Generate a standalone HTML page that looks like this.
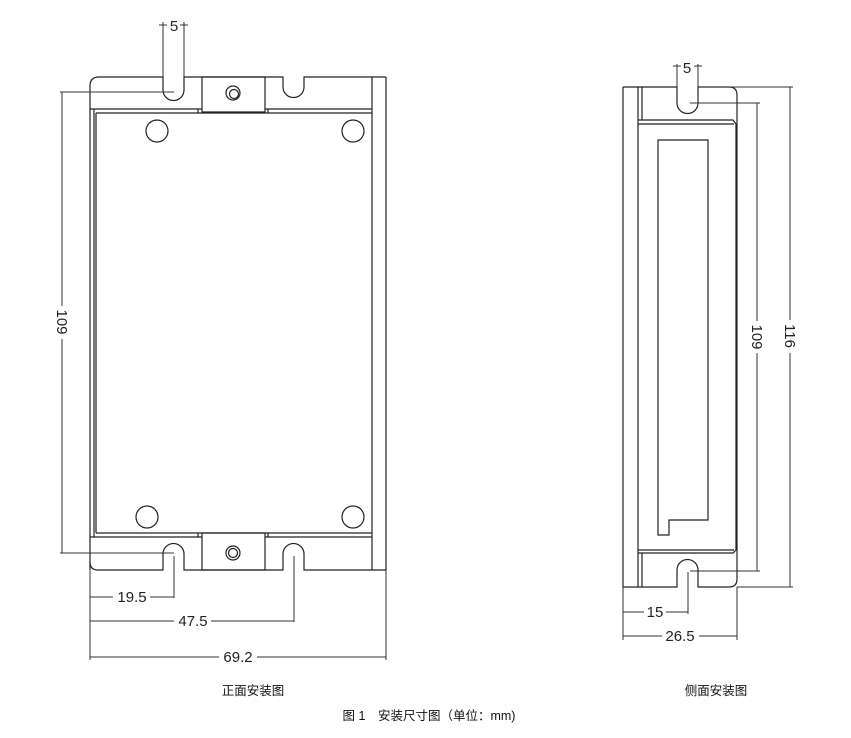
<!DOCTYPE html>
<html><head><meta charset="utf-8"><style>
html,body{margin:0;padding:0;background:#fff;}
svg{display:block;}
text{font-family:"Liberation Sans","DejaVu Sans",sans-serif;}
.cj{font-family:"Liberation Sans","Noto Sans CJK SC",sans-serif;font-size:12.5px;fill:#111;}
</style></head><body>
<svg width="851" height="738" viewBox="0 0 851 738" xmlns="http://www.w3.org/2000/svg">
<g fill="none" stroke="#222" stroke-width="1.2">
<!-- FRONT VIEW -->
<!-- top outline -->
<path d="M90,570 L90,86 Q90,77 99,77 L163,77 L163,90 A10.5,10.5 0 0 0 184,90 L184,77 L283,77 L283,87 A10.5,10.5 0 0 0 304,87 L304,77 L386,77"/>
<line x1="372" y1="77" x2="372" y2="570"/>
<line x1="386" y1="77" x2="386" y2="570"/>
<line x1="94" y1="109" x2="94" y2="537"/>
<line x1="96" y1="113" x2="96" y2="533"/>
<!-- top plate lines -->
<line x1="90" y1="109" x2="202" y2="109"/>
<line x1="265" y1="109" x2="372" y2="109"/>
<line x1="96" y1="113" x2="372" y2="113"/>
<line x1="198" y1="109" x2="198" y2="113"/>
<line x1="268" y1="109" x2="268" y2="113"/>
<rect x="202" y="77" width="63" height="35"/>
<circle cx="233" cy="93" r="7"/>
<circle cx="234" cy="94" r="4.5"/>
<!-- holes -->
<circle cx="157" cy="131" r="11"/>
<circle cx="353" cy="131" r="11"/>
<circle cx="147" cy="517" r="11"/>
<circle cx="353" cy="517" r="11"/>
<!-- bottom plate -->
<line x1="96" y1="533" x2="372" y2="533"/>
<line x1="90" y1="537" x2="202" y2="537"/>
<line x1="265" y1="537" x2="372" y2="537"/>
<line x1="198" y1="533" x2="198" y2="537"/>
<line x1="268" y1="533" x2="268" y2="537"/>
<path d="M90,562 Q90,570 98,570 L163,570 L163,554 A10.5,10.5 0 0 1 184,554 L184,570 L283,570 L283,554 A10.5,10.5 0 0 1 304,554 L304,570 L386,570"/>
<rect x="202" y="533" width="63" height="37"/>
<circle cx="233" cy="553" r="7"/>
<circle cx="233" cy="553" r="4.5"/>
</g>
<g fill="none" stroke="#333" stroke-width="1">
<!-- dims front -->
<line x1="163" y1="22" x2="163" y2="77"/>
<line x1="184" y1="22" x2="184" y2="77"/>
<line x1="159" y1="25" x2="167" y2="25"/>
<line x1="180" y1="25" x2="188" y2="25"/>
<line x1="60" y1="92" x2="174" y2="92"/>
<line x1="60" y1="553" x2="174" y2="553"/>
<line x1="62" y1="92" x2="62" y2="306"/>
<line x1="62" y1="339" x2="62" y2="553"/>
<line x1="174" y1="556" x2="174" y2="598"/>
<line x1="294" y1="556" x2="294" y2="622"/>
<line x1="90" y1="570" x2="90" y2="660"/>
<line x1="386" y1="570" x2="386" y2="660"/>
<line x1="90" y1="597" x2="113" y2="597"/>
<line x1="150" y1="597" x2="174" y2="597"/>
<line x1="90" y1="621" x2="174" y2="621"/>
<line x1="211" y1="621" x2="294" y2="621"/>
<line x1="90" y1="657" x2="219" y2="657"/>
<line x1="257" y1="657" x2="386" y2="657"/>
</g>
<g fill="#222" font-size="15">
<text x="174" y="31" text-anchor="middle">5</text>
<text x="132" y="602" text-anchor="middle">19.5</text>
<text x="193" y="626" text-anchor="middle">47.5</text>
<text x="238" y="662" text-anchor="middle">69.2</text>
<text transform="translate(57,322) rotate(90)" text-anchor="middle">109</text>
<text x="687" y="73" text-anchor="middle">5</text>
<text x="655" y="617" text-anchor="middle">15</text>
<text x="680" y="641" text-anchor="middle">26.5</text>
<text transform="translate(752,337) rotate(90)" text-anchor="middle">109</text>
<text transform="translate(785,336) rotate(90)" text-anchor="middle">116</text>
</g>
<g fill="none" stroke="#222" stroke-width="1.2">
<!-- SIDE VIEW -->
<line x1="623" y1="87" x2="623" y2="587"/>
<line x1="638" y1="87" x2="638" y2="587"/>
<line x1="642" y1="87" x2="642" y2="120"/>
<line x1="642" y1="553" x2="642" y2="587"/>
<path d="M623,87 L677,87 L677,103 A10.5,10.5 0 0 0 698,103 L698,87 L729,87 Q737,87 737,95 L737,579 Q737,587 729,587 L698,587 L698,570 A10.5,10.5 0 0 0 677,570 L677,587 L623,587"/>
<path d="M638,120 L733,120 L736,124 L736,550 L733,553 L638,553"/>
<line x1="638" y1="124" x2="734" y2="124"/>
<line x1="638" y1="550" x2="734" y2="550"/>
<path d="M658,140 L708,140 L708,520 L669,520 L669,535 L658,535 Z"/>
</g>
<g fill="none" stroke="#333" stroke-width="1">
<line x1="677" y1="64" x2="677" y2="87"/>
<line x1="698" y1="64" x2="698" y2="87"/>
<line x1="673" y1="66" x2="681" y2="66"/>
<line x1="694" y1="66" x2="702" y2="66"/>
<line x1="700" y1="87" x2="793" y2="87"/>
<line x1="690" y1="103" x2="760" y2="103"/>
<line x1="690" y1="571" x2="760" y2="571"/>
<line x1="737" y1="587" x2="793" y2="587"/>
<line x1="757" y1="103" x2="757" y2="321"/>
<line x1="757" y1="353" x2="757" y2="571"/>
<line x1="790" y1="87" x2="790" y2="320"/>
<line x1="790" y1="353" x2="790" y2="587"/>
<line x1="623" y1="587" x2="623" y2="640"/>
<line x1="688" y1="572" x2="688" y2="614"/>
<line x1="737" y1="587" x2="737" y2="640"/>
<line x1="623" y1="612" x2="644" y2="612"/>
<line x1="666" y1="612" x2="688" y2="612"/>
<line x1="623" y1="636" x2="662" y2="636"/>
<line x1="699" y1="636" x2="737" y2="636"/>
</g>
<text class="cj" x="253" y="695" text-anchor="middle">正面安装图</text>
<text class="cj" x="716" y="695" text-anchor="middle">侧面安装图</text>
<text class="cj" x="429" y="720" text-anchor="middle">图 1　安装尺寸图（单位：mm)</text>
</svg>
</body></html>
